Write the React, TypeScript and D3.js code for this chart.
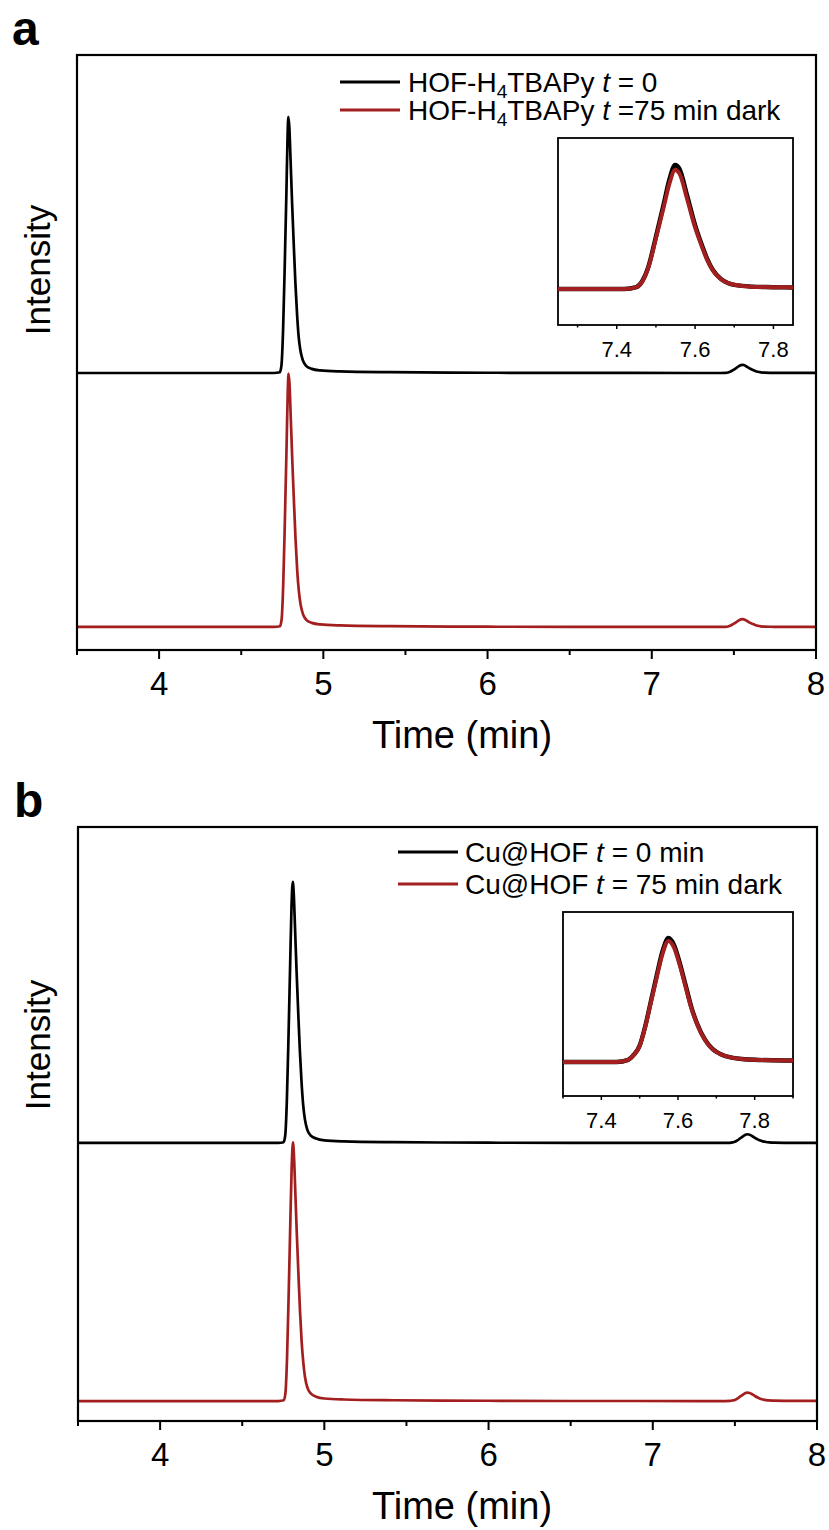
import React from 'react';
import * as d3 from 'd3';

type Pt = [number, number];
type Seg = [string, 'n' | 'sub' | 'i'];

// retention time (min), intensity (a.u.)
const aBlack: Pt[] = [
  [3.5, 0], [4.70, 0], [4.735, 0.3], [4.745, 3], [4.755, 17], [4.765, 42], [4.775, 70],
  [4.782, 92], [4.787, 100], [4.793, 96], [4.80, 84], [4.81, 66], [4.82, 50], [4.83, 35],
  [4.84, 23], [4.85, 14], [4.86, 9], [4.875, 5], [4.895, 2.8], [4.93, 1.6], [4.98, 1.0],
  [5.1, 0.6], [5.4, 0.3], [6.0, 0.1], [6.5, 0.02], [7.25, 0], [7.42, 0], [7.45, 0.05],
  [7.465, 0.2], [7.48, 0.55], [7.50, 1.35], [7.52, 2.2], [7.535, 2.85], [7.549, 3.2],
  [7.56, 3.1], [7.58, 2.4], [7.60, 1.65], [7.615, 1.2], [7.63, 0.8], [7.645, 0.5],
  [7.665, 0.27], [7.685, 0.15], [7.72, 0.08], [7.78, 0.05], [7.85, 0.04], [8.0, 0.02],
];

const aRed: Pt[] = [
  [3.5, 0], [4.70, 0], [4.736, 0.3], [4.746, 3], [4.756, 17], [4.766, 42], [4.776, 70],
  [4.783, 91], [4.788, 99], [4.794, 95], [4.801, 83], [4.811, 65], [4.821, 49], [4.831, 34],
  [4.841, 22], [4.851, 14], [4.861, 9], [4.876, 5], [4.896, 2.8], [4.93, 1.6], [4.98, 1.0],
  [5.1, 0.6], [5.4, 0.3], [6.0, 0.1], [6.5, 0.02], [7.25, 0], [7.42, 0], [7.45, 0.05],
  [7.465, 0.19], [7.48, 0.53], [7.50, 1.3], [7.52, 2.12], [7.535, 2.74], [7.549, 3.07],
  [7.56, 2.98], [7.58, 2.31], [7.60, 1.59], [7.615, 1.16], [7.63, 0.77], [7.645, 0.48],
  [7.665, 0.26], [7.685, 0.15], [7.72, 0.08], [7.78, 0.05], [7.85, 0.04], [8.0, 0.02],
];

const bBlack: Pt[] = [
  [3.5, 0], [4.72, 0], [4.752, 0.3], [4.762, 3], [4.772, 17], [4.782, 42], [4.792, 70],
  [4.80, 92], [4.808, 102], [4.814, 97], [4.821, 85], [4.831, 67], [4.841, 51], [4.851, 36],
  [4.861, 24], [4.871, 15], [4.881, 9.5], [4.896, 5.2], [4.916, 3], [4.95, 1.7], [5.0, 1.0],
  [5.12, 0.6], [5.42, 0.3], [6.0, 0.1], [6.5, 0.02], [7.3, 0], [7.44, 0], [7.47, 0.06],
  [7.485, 0.2], [7.50, 0.45], [7.515, 1.0], [7.53, 1.7], [7.545, 2.4], [7.56, 3.05],
  [7.575, 3.4], [7.59, 3.2], [7.605, 2.7], [7.62, 2.1], [7.635, 1.5], [7.65, 1.05],
  [7.67, 0.62], [7.69, 0.36], [7.71, 0.22], [7.74, 0.12], [7.80, 0.06], [7.90, 0.04], [8.0, 0.03],
];

const bRed: Pt[] = [
  [3.5, 0], [4.72, 0], [4.753, 0.3], [4.763, 3], [4.773, 17], [4.783, 42], [4.793, 70],
  [4.801, 91], [4.809, 101], [4.815, 96], [4.822, 84], [4.832, 66], [4.842, 50], [4.852, 35],
  [4.862, 23], [4.872, 15], [4.882, 9.5], [4.897, 5.2], [4.917, 3], [4.95, 1.7], [5.0, 1.0],
  [5.12, 0.6], [5.42, 0.3], [6.0, 0.1], [6.5, 0.02], [7.3, 0], [7.44, 0], [7.47, 0.06],
  [7.485, 0.2], [7.50, 0.44], [7.515, 0.98], [7.53, 1.66], [7.545, 2.34], [7.56, 2.98],
  [7.575, 3.32], [7.59, 3.13], [7.605, 2.64], [7.62, 2.05], [7.635, 1.47], [7.65, 1.03],
  [7.67, 0.61], [7.69, 0.35], [7.71, 0.22], [7.74, 0.12], [7.80, 0.06], [7.90, 0.04], [8.0, 0.03],
];

const xMajor = [4, 5, 6, 7, 8];
const xMinor = [3.5, 4.5, 5.5, 6.5, 7.5];
const insetMajor = [7.4, 7.6, 7.8];
const insetMinorA = [7.3, 7.5, 7.7];
const insetMinorB = [7.3, 7.5, 7.7, 7.9];

const legendA: Seg[][] = [
  [['HOF-H', 'n'], ['4', 'sub'], ['TBAPy ', 'n'], ['t', 'i'], [' = 0', 'n']],
  [['HOF-H', 'n'], ['4', 'sub'], ['TBAPy ', 'n'], ['t', 'i'], [' =75 min dark', 'n']],
];
const legendB: Seg[][] = [
  [['Cu@HOF ', 'n'], ['t', 'i'], [' = 0 min', 'n']],
  [['Cu@HOF ', 'n'], ['t', 'i'], [' = 75 min dark', 'n']],
];

const RED = '#a31f1f';
const FONT = 'Liberation Sans, Arial, Helvetica, sans-serif';

const RichText = ({ x, y, segs, size }: { x: number; y: number; segs: Seg[]; size: number }) => {
  let shift = 0;
  return (
    <text x={x} y={y} fontSize={size} fill="#000" style={{ whiteSpace: 'pre' }}>
      {segs.map(([t, s], i) => {
        const target = s === 'sub' ? 6 : 0;
        const dy = target - shift;
        shift = target;
        return (
          <tspan
            key={i}
            dy={dy}
            fontSize={s === 'sub' ? size * 0.68 : size}
            fontStyle={s === 'i' ? 'italic' : 'normal'}
          >
            {t}
          </tspan>
        );
      })}
    </text>
  );
};

type PanelProps = {
  id: string;
  label: string;
  labelPos: [number, number];
  frame: { left: number; right: number; top: number; bottom: number };
  yDomain: [number, number];
  offset: number;
  black: Pt[];
  red: Pt[];
  legend: Seg[][];
  legendLine: [number, number];
  legendText: number;
  legendY: [number, number];
  inset: { left: number; right: number; top: number; bottom: number };
  insetX: [number, number];
  insetY: [number, number];
  insetMinor: number[];
  intensityY: number;
};

const Panel = (p: PanelProps) => {
  const { frame, inset } = p;
  const x = d3.scaleLinear().domain([3.5, 8]).range([frame.left, frame.right]);
  const y = d3.scaleLinear().domain(p.yDomain).range([frame.bottom, frame.top]);
  const ix = d3.scaleLinear().domain(p.insetX).range([inset.left, inset.right]);
  const iy = d3.scaleLinear().domain(p.insetY).range([inset.bottom, inset.top]);

  const mainLine = (off: number) =>
    d3.line<Pt>().x(d => x(d[0])).y(d => y(d[1] + off)).curve(d3.curveMonotoneX);
  const insetLine = d3.line<Pt>().x(d => ix(d[0])).y(d => iy(d[1])).curve(d3.curveMonotoneX);

  const clip = `clip-${p.id}`;
  return (
    <g>
      <defs>
        <clipPath id={clip}>
          <rect x={inset.left} y={inset.top} width={inset.right - inset.left} height={inset.bottom - inset.top} />
        </clipPath>
        <clipPath id={`${clip}-main`}>
          <rect x={frame.left} y={frame.top} width={frame.right - frame.left} height={frame.bottom - frame.top} />
        </clipPath>
      </defs>

      <text x={p.labelPos[0]} y={p.labelPos[1]} fontSize={48} fontWeight="bold">{p.label}</text>

      <g clipPath={`url(#${clip}-main)`}>
        <path d={mainLine(p.offset)(p.black) ?? ''} fill="none" stroke="#000" strokeWidth={2.7} strokeLinejoin="round" />
        <path d={mainLine(0)(p.red) ?? ''} fill="none" stroke={RED} strokeWidth={2.7} strokeLinejoin="round" />
      </g>

      <rect x={frame.left} y={frame.top} width={frame.right - frame.left} height={frame.bottom - frame.top}
        fill="none" stroke="#000" strokeWidth={2.2} />

      {xMajor.map(t => (
        <line key={`M${t}`} x1={x(t)} x2={x(t)} y1={frame.bottom} y2={frame.bottom + 9} stroke="#000" strokeWidth={2} />
      ))}
      {xMinor.map(t => (
        <line key={`m${t}`} x1={x(t)} x2={x(t)} y1={frame.bottom} y2={frame.bottom + 5} stroke="#000" strokeWidth={2} />
      ))}
      {xMajor.map(t => (
        <text key={`L${t}`} x={x(t)} y={frame.bottom + 45} fontSize={33} textAnchor="middle">{t}</text>
      ))}
      <text x={462} y={frame.bottom + 98} fontSize={38} textAnchor="middle">Time (min)</text>
      <text transform={`translate(38,${p.intensityY}) rotate(-90)`} fontSize={35} textAnchor="middle" dy="0.35em">
        Intensity
      </text>

      {p.legend.map((segs, i) => (
        <g key={i}>
          <line x1={p.legendLine[0]} x2={p.legendLine[1]} y1={p.legendY[i]} y2={p.legendY[i]}
            stroke={i === 0 ? '#000' : RED} strokeWidth={3} />
          <RichText x={p.legendText} y={p.legendY[i] + 10} segs={segs} size={28} />
        </g>
      ))}

      <rect x={inset.left} y={inset.top} width={inset.right - inset.left} height={inset.bottom - inset.top}
        fill="#fff" stroke="#000" strokeWidth={1.8} />
      <g clipPath={`url(#${clip})`}>
        <path d={insetLine(p.black) ?? ''} fill="none" stroke="#000" strokeWidth={4.4} strokeLinejoin="round" />
        <path d={insetLine(p.red) ?? ''} fill="none" stroke={RED} strokeWidth={4} strokeLinejoin="round" />
      </g>
      {insetMajor.map(t => (
        <line key={`iM${t}`} x1={ix(t)} x2={ix(t)} y1={inset.bottom} y2={inset.bottom + 4} stroke="#000" strokeWidth={1.5} />
      ))}
      {p.insetMinor.map(t => (
        <line key={`im${t}`} x1={ix(t)} x2={ix(t)} y1={inset.bottom} y2={inset.bottom + 2.5} stroke="#000" strokeWidth={1.5} />
      ))}
      {insetMajor.map(t => (
        <text key={`iL${t}`} x={ix(t)} y={inset.bottom + 32} fontSize={22} textAnchor="middle">{t.toFixed(1)}</text>
      ))}
    </g>
  );
};

export default function App() {
  return (
    <svg width={829} height={1530} style={{ position: 'absolute', left: 0, top: 0, background: '#fff' }}
      fontFamily={FONT}>
      <rect width={829} height={1530} fill="#fff" />
      <Panel
        id="a"
        label="a"
        labelPos={[12, 45]}
        frame={{ left: 77, right: 816, top: 55, bottom: 650 }}
        yDomain={[-9, 223.4]}
        offset={99.2}
        black={aBlack}
        red={aRed}
        legend={legendA}
        legendLine={[340, 400]}
        legendText={408}
        legendY={[82, 110]}
        inset={{ left: 558, right: 793, top: 138, bottom: 325 }}
        insetX={[7.25, 7.85]}
        insetY={[-0.929, 3.897]}
        insetMinor={insetMinorA}
        intensityY={270}
      />
      <Panel
        id="b"
        label="b"
        labelPos={[14, 817]}
        frame={{ left: 78, right: 817, top: 827, bottom: 1421 }}
        yDomain={[-7.8, 224.2]}
        offset={100.8}
        black={bBlack}
        red={bRed}
        legend={legendB}
        legendLine={[398, 458]}
        legendText={465}
        legendY={[852, 884]}
        inset={{ left: 563, right: 793, top: 912, bottom: 1096 }}
        insetX={[7.3, 7.9]}
        insetY={[-0.932, 4.113]}
        insetMinor={insetMinorB}
        intensityY={1045}
      />
    </svg>
  );
}
